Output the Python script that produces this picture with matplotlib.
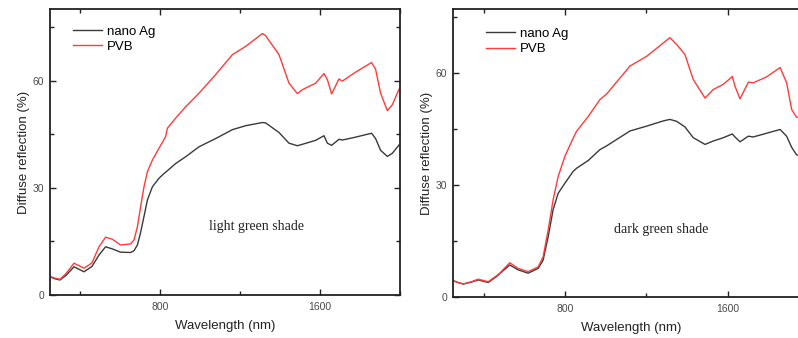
import matplotlib
matplotlib.use("Agg")
import matplotlib.pyplot as plt
from matplotlib.ticker import MultipleLocator

# ---------------- data ----------------
wl_left = [245, 270, 300, 330, 370, 420, 460, 495, 528, 562, 603, 653, 670, 687,
           703, 720, 737, 762, 795, 828, 837, 878, 928, 995, 1078, 1162, 1228,
           1312, 1328, 1395, 1445, 1487, 1512, 1578, 1620, 1637, 1658, 1695,
           1712, 1778, 1858, 1878, 1903, 1937, 1962, 1995]
pvb_left = [5.3, 4.8, 4.4, 6.0, 8.9, 7.5, 9.0, 13.5, 16.2, 15.6, 14.0, 14.3, 15.4,
            19.1, 24.7, 30.3, 34.5, 37.8, 41.1, 44.3, 46.7, 49.5, 52.7, 56.5,
            61.7, 67.3, 69.6, 73.2, 72.6, 67.3, 59.3, 56.4, 57.5, 59.3, 62.0,
            60.3, 56.3, 60.5, 59.9, 62.4, 65.1, 63.2, 56.5, 51.6, 53.3, 57.6]
ag_left = [5.3, 4.6, 4.2, 5.5, 7.9, 6.5, 8.0, 11.2, 13.5, 12.9, 12.0, 11.9, 12.4,
           14.0, 17.5, 22.0, 26.6, 30.3, 32.7, 34.4, 34.8, 36.8, 38.7, 41.5,
           43.8, 46.3, 47.4, 48.3, 48.2, 45.5, 42.5, 41.8, 42.2, 43.3, 44.6,
           42.5, 41.9, 43.6, 43.4, 44.2, 45.3, 43.8, 40.5, 38.8, 39.7, 42.0]

wl_right = [250, 275, 300, 340, 374, 423, 464, 480, 529, 570, 619, 669, 693, 718,
            742, 767, 800, 841, 857, 915, 972, 1005, 1120, 1202, 1284, 1316,
            1349, 1390, 1431, 1489, 1529, 1579, 1623, 1636, 1661, 1702, 1726,
            1792, 1858, 1890, 1915, 1939, 1960]
pvb_right = [4.3, 3.8, 3.4, 4.0, 4.7, 4.0, 5.6, 6.3, 9.1, 7.6, 6.7, 8.0, 10.7,
             17.9, 25.9, 32.2, 37.6, 42.5, 44.3, 48.3, 52.8, 54.3, 61.8, 64.4,
             68.0, 69.4, 67.6, 64.9, 58.2, 53.2, 55.5, 56.9, 59.0, 56.4, 53.0,
             57.5, 57.3, 58.9, 61.4, 57.3, 50.1, 48.1, 48.0]
ag_right = [4.3, 3.8, 3.4, 3.9, 4.5, 3.8, 5.4, 6.2, 8.5, 7.2, 6.3, 7.6, 9.8, 16.1,
            23.3, 27.7, 30.4, 33.6, 34.4, 36.5, 39.4, 40.4, 44.4, 45.7, 47.1,
            47.5, 47.0, 45.5, 42.6, 40.8, 41.7, 42.6, 43.6, 42.8, 41.5, 43.0,
            42.8, 43.8, 44.8, 43.0, 40.0, 38.0, 37.8]

series_labels = ["nano Ag", "PVB"]
panel_notes = ["light green shade", "dark green shade"]
x_ticks = [800, 1600]
y_ticks = [0, 30, 60]

# ---------------- styling ----------------
plt.rcParams['font.family'] = ['Liberation Sans', 'DejaVu Sans']
W, H = 798, 338
fig = plt.figure(figsize=(W / 100, H / 100), dpi=100)

panels = [
    dict(rect=[50 / W, 43 / H, 350 / W, 285.7 / H], wl=wl_left, ag=ag_left,
         pvb=pvb_left, ylim=(0, 80), note=panel_notes[0], note_xy=(1282, 19.3),
         leg=(0.066, 0.944)),
    dict(rect=[453 / W, 41.3 / H, 356 / W, 287.4 / H], wl=wl_right, ag=ag_right,
         pvb=pvb_right, ylim=(0, 77), note=panel_notes[1], note_xy=(1272, 17.9),
         leg=(0.093, 0.937)),
]

for p in panels:
    ax = fig.add_axes(p["rect"])
    ax.plot(p["wl"], p["ag"], color="#3a3a3a", lw=1.0, label=series_labels[0])
    ax.plot(p["wl"], p["pvb"], color="#ff3b3b", lw=1.0, label=series_labels[1])
    ax.set_xlim(250, 2000)
    ax.set_ylim(*p["ylim"])
    ax.set_xticks(x_ticks)
    ax.set_yticks(y_ticks)
    ax.xaxis.set_minor_locator(MultipleLocator(400))
    ax.yaxis.set_minor_locator(MultipleLocator(15))
    ax.tick_params(which="both", direction="in", top=True, right=True,
                   width=1.0, color="#222222")
    ax.tick_params(which="major", length=4.5)
    ax.tick_params(which="minor", length=3)
    ax.tick_params(axis="x", which="major", labelsize=7.5, labelcolor="#4a4a4a", pad=5)
    ax.tick_params(axis="y", which="major", labelsize=7.5, labelcolor="#4a4a4a", pad=4)
    for s in ax.spines.values():
        s.set_linewidth(1.3)
        s.set_color("#222222")
    ax.set_xlabel("Wavelength (nm)", fontsize=9.5, color="#222222", labelpad=6)
    ax.set_ylabel("Diffuse reflection (%)", fontsize=9.5, color="#222222", labelpad=2)
    ax.text(p["note_xy"][0], p["note_xy"][1], p["note"], ha="center", va="center",
            family=["Liberation Serif", "DejaVu Serif"], fontsize=10, color="#222222")
    ax.legend(loc="upper left", bbox_to_anchor=p["leg"], frameon=False,
              fontsize=9.5, handlelength=2.2, handletextpad=0.35,
              labelspacing=0.25, borderpad=0, borderaxespad=0)

fig.savefig("out.png", dpi=100)
